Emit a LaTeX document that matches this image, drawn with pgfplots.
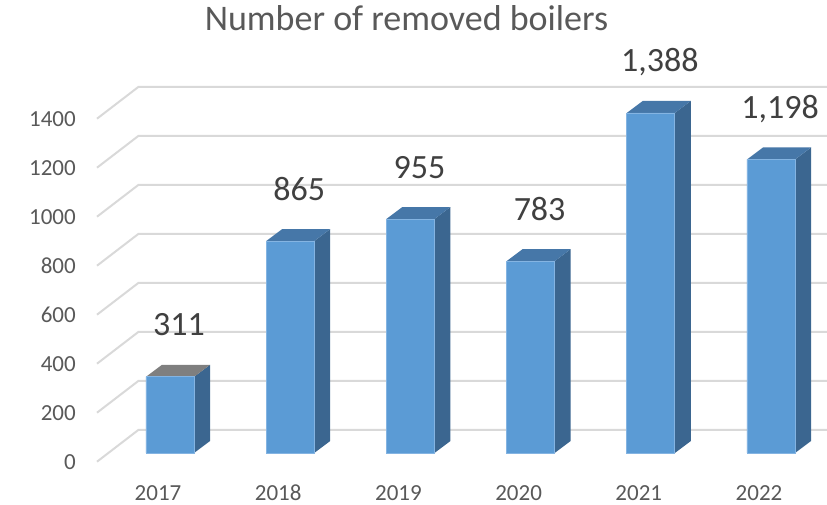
\documentclass[border=0pt]{standalone}
\usepackage{fontspec}
\setmainfont{Carlito}
\usepackage{pgfplots}
\usepackage{pgfplotstable}
\pgfplotsset{compat=1.18}
\definecolor{frontcol}{HTML}{5B9BD5}
\definecolor{sidecol}{HTML}{3B6690}
\definecolor{topcol}{HTML}{4677A8}
\definecolor{topgray}{HTML}{7F7F7F}
\definecolor{edgecol}{HTML}{84B4E2}
\definecolor{gridcol}{HTML}{D9D9D9}
\definecolor{txtcol}{HTML}{595959}
\definecolor{lblcol}{HTML}{404040}

\pgfplotstableread{
x v
0 311
1 865
2 955
3 783
4 1388
5 1198
}\boilers

\begin{document}
\begin{tikzpicture}
\begin{axis}[
  width=827bp, height=505bp, scale only axis,
  xmin=-1.41431, xmax=5.46589, ymin=-212.245, ymax=1848.98,
  axis line style={draw=none}, major tick length=0pt, tick style={draw=none},
  xtick={0,1,2,3,4,5}, xticklabels={2017,2018,2019,2020,2021,2022},
  ytick={-35.5,164.5,364.5,564.5,764.5,964.5,1164.5,1364.5},
  yticklabels={0,200,400,600,800,1000,1200,1400},
  xticklabel style={anchor=base, yshift=5bp, xshift=-12bp, inner sep=0pt,
    font=\fontsize{23bp}{27bp}\selectfont, text=txtcol},
  yticklabel style={anchor=east, xshift=76bp, inner sep=0pt,
    font=\fontsize{23bp}{27bp}\selectfont, text=txtcol},
  title={Number of removed boilers},
  title style={at={(axis description cs:0.4915,0.9287)}, anchor=base, inner sep=0pt,
    font=\fontsize{36bp}{40bp}\selectfont, text=txtcol},
  clip=false,
]
\coordinate (SW) at (rel axis cs:0,0);
\coordinate (NE) at (rel axis cs:1,1);
% gridlines (front edge -> back wall -> right)
\addplot[gridcol, line width=2bp, forget plot] coordinates {(-0.6073,-35.5) (-0.2637,93.9) (5.46589,93.9)};
\addplot[gridcol, line width=2bp, forget plot] coordinates {(-0.6073,164.5) (-0.2637,293.9) (5.46589,293.9)};
\addplot[gridcol, line width=2bp, forget plot] coordinates {(-0.6073,364.5) (-0.2637,493.9) (5.46589,493.9)};
\addplot[gridcol, line width=2bp, forget plot] coordinates {(-0.6073,564.5) (-0.2637,693.9) (5.46589,693.9)};
\addplot[gridcol, line width=2bp, forget plot] coordinates {(-0.6073,764.5) (-0.2637,893.9) (5.46589,893.9)};
\addplot[gridcol, line width=2bp, forget plot] coordinates {(-0.6073,964.5) (-0.2637,1093.9) (5.46589,1093.9)};
\addplot[gridcol, line width=2bp, forget plot] coordinates {(-0.6073,1164.5) (-0.2637,1293.9) (5.46589,1293.9)};
\addplot[gridcol, line width=2bp, forget plot] coordinates {(-0.6073,1364.5) (-0.2637,1493.9) (5.46589,1493.9)};
% side and top faces of the bars
\pgfplotsinvokeforeach{0,1,2,3,4,5}{
  \pgfplotstablegetelem{#1}{v}\of\boilers
  \let\val\pgfplotsretval
  \pgfmathsetmacro\xa{#1+0.2}
  \pgfmathsetmacro\xb{#1+0.3331}
  \pgfmathsetmacro\xc{#1-0.2}
  \pgfmathsetmacro\xd{#1-0.0669}
  \pgfmathsetmacro\vt{\val+49}
  \ifnum#1=0 \def\tc{topgray}\else\def\tc{topcol}\fi
  \edef\temp{\noexpand\addplot[fill=sidecol, draw=none, forget plot] coordinates {(\xa,0) (\xb,49) (\xb,\vt) (\xa,\val)} -- cycle;
    \noexpand\addplot[fill=\tc, draw=none, forget plot] coordinates {(\xc,\val) (\xa,\val) (\xb,\vt) (\xd,\vt)} -- cycle;}
  \temp
}
% front faces
\addplot[ybar, bar width=0.4, fill=frontcol, draw=edgecol, line width=0.8bp,
  nodes near coords={\pgfmathprintnumber[assume math mode=true,1000 sep={,}]{\pgfplotspointmeta}},
  nodes near coords align={center},
  nodes near coords style={anchor=base, xshift=9bp, yshift=41bp,
    font=\fontsize{34bp}{40bp}\selectfont, text=lblcol}]
  table[x=x, y=v]{\boilers};
\end{axis}
\pgfresetboundingbox
\useasboundingbox (SW) rectangle (NE);
\end{tikzpicture}
\end{document}
